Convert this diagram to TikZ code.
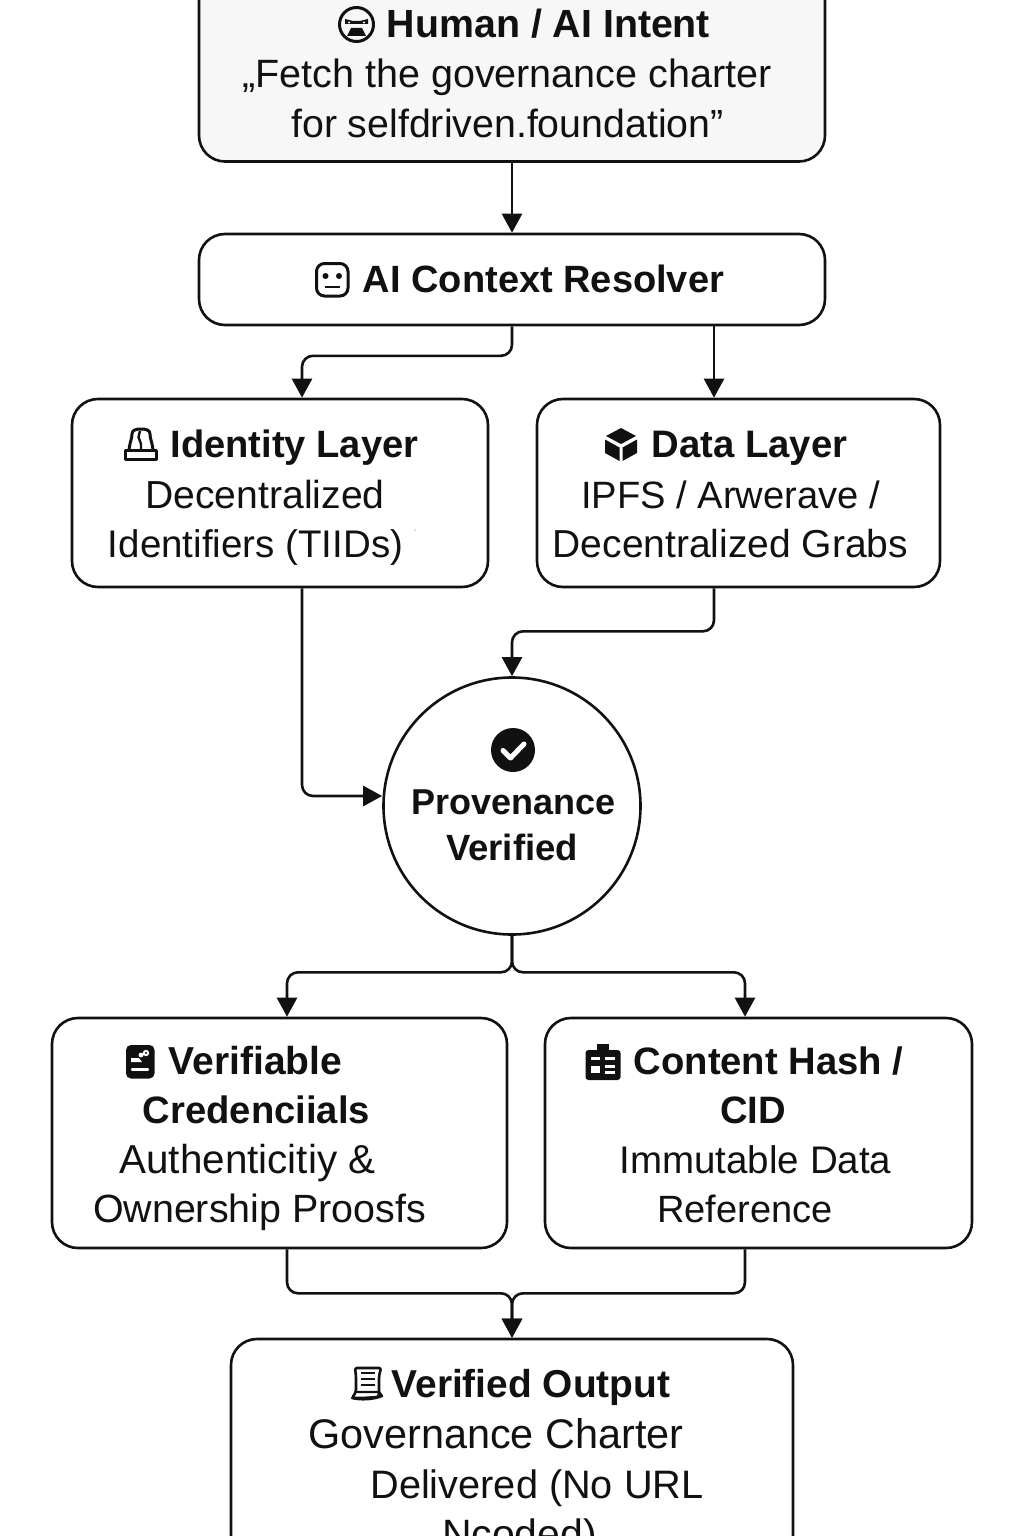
\documentclass[tikz,border=0pt]{standalone}
\usepackage{fontspec}
\setmainfont{Liberation Sans}
\usetikzlibrary{arrows.meta}
\definecolor{ink}{HTML}{111111}
\definecolor{pale}{HTML}{F7F7F7}
\tikzset{
  box/.style={draw=ink,line width=2.6pt,rounded corners=26pt,fill=white,inner sep=0pt},
  conn/.style={draw=ink,line width=2.6pt,rounded corners=11pt,-{Triangle[length=19pt,width=20pt]}},
  ttl/.style={anchor=base,inner sep=0pt,text=ink,font=\bfseries\fontsize{#1}{40}\selectfont},
  ttl/.default=38,
  body/.style={anchor=base,inner sep=0pt,text=ink,font=\fontsize{#1}{40}\selectfont},
  body/.default=39,
  ic/.style={draw=ink,line width=3pt,line join=round,line cap=round},
  icw/.style={draw=white,line width=2.4pt,line cap=round,line join=round},
}
\begin{document}
\begin{tikzpicture}[x=1pt,y=-1pt]
\useasboundingbox (0,0) rectangle (1024,1536);
\clip (0,0) rectangle (1024,1536);
\fill[white] (0,0) rectangle (1024,1536);
% boxes
\node[box,fill=pale,minimum width=626pt,minimum height=200pt] (intent) at (512,61.5) {};
\node[box,minimum width=626pt,minimum height=91pt] (resolver) at (512,279.5) {};
\node[box,minimum width=416pt,minimum height=188pt] (identity) at (280,493) {};
\node[box,minimum width=403pt,minimum height=188pt] (data) at (738.5,493) {};
\node[draw=ink,line width=2.6pt,circle,minimum size=257pt,inner sep=0pt] (prov) at (512,806) {};
\node[box,minimum width=455pt,minimum height=230pt] (vc) at (279.5,1133) {};
\node[box,minimum width=427pt,minimum height=230pt] (cid) at (758.5,1133) {};
\node[box,minimum width=562pt,minimum height=300pt] (output) at (512,1489) {};
% connectors
\draw[conn] (intent.south) -- (resolver.north);
\draw[conn] (resolver.south) -- ++(0,29.5) -| ([xshift=22pt]identity.north);
\draw[conn] ([xshift=202pt]resolver.south) -- ([xshift=-24.5pt]data.north);
\draw[conn] ([xshift=22pt]identity.south) |- ([yshift=10pt]prov.west);
\draw[conn] ([xshift=-24.5pt]data.south) -- ++(0,43) -| (prov.north);
\draw[conn] (prov.south) -- ++(0,36.5) -| ([xshift=7.5pt]vc.north);
\draw[conn] (prov.south) -- ++(0,36.5) -| ([xshift=-13.5pt]cid.north);
\draw[conn] ([xshift=7.5pt]vc.south) -- ++(0,44) -| (output.north);
\draw[conn] ([xshift=-13.5pt]cid.south) -- ++(0,44) -| (output.north);
% texts
\node[ttl=39.3] (t1) at (548.5,38) {Human / AI Intent};
\node[body=39.5] (t2) at (507,88) {„Fetch the governance charter};
\node[body=39.3] (t3) at (507.5,138) {for selfdriven.foundation”};
\node[ttl=38] (t4) at (543.5,292) {AI Context Resolver};
\node[ttl=38.1] (t5) at (294.5,457) {Identity Layer};
\node[body=39.1] (t6) at (265,508) {Decentralized};
\node[body=38.5] (t7) at (255.5,557) {Identifiers (TIIDs)};
\node[ttl=38.3] (t8) at (749.5,457) {Data Layer};
\node[body=38.1] (t9) at (730.5,508) {IPFS / Arwerave /};
\node[body=39] (t10) at (730.5,557) {Decentralized Grabs};
\node[ttl=36] (t11) at (513.5,814) {Provenance};
\node[ttl=36.5] (t12) at (512,860) {Verified};
\node[ttl=39] (t13) at (255.5,1074) {Verifiable};
\node[ttl=38.2] (t14) at (256.5,1123) {Credenciials};
\node[body=40.4] (t15) at (247.5,1173) {Authenticitiy \&};
\node[body=39.4] (t16) at (259.5,1222) {Ownership Proosfs};
\node[ttl=38.2] (t17) at (768.5,1074) {Content Hash /};
\node[ttl=38.2] (t18) at (753,1123) {CID};
\node[body=38.5] (t19) at (755.5,1173) {Immutable Data};
\node[body=38] (t20) at (745,1222) {Reference};
\node[ttl=38.9] (t21) at (531,1397) {Verified Output};
\node[body=41.4] (t22) at (496,1448) {Governance Charter};
\node[body=39.7] (t23) at (537,1498) {Delivered (No URL};
\node[body=41] (t24) at (519.5,1548) {Ncoded)};
% icon: face
\draw[ic] (356.5,24.5) circle (17);
\fill[ink] (345,19) -- (353,21) -- (360,21) -- (368,19) -- (368,24) -- (345,24) -- cycle;
\fill[white] (349,22.5) circle (1.2) (364,22.5) circle (1.2);
\fill[ink] (351,28) -- (362,28) -- (366,36) -- (347,36) -- cycle;
% icon: robot face
\draw[ic,rounded corners=8pt] (316.5,263.5) rectangle (348,296);
\fill[ink] (325.5,276) circle (3) (339,276) circle (3);
\draw[ink,line width=2.6pt] (325,287) -- (340,287);
% icon: stamp
\draw[ic] (125,450) rectangle (156.5,459.5);
\draw[ic] (129,450) .. controls (130,441) and (132,439) .. (132,434) .. controls (132,430) and (136,429) .. (141,429) .. controls (146,429) and (150,430) .. (150,434) .. controls (150,439) and (152,441) .. (153,450);
\draw[ink,line width=2.4pt] (140,431) -- (138.5,437) -- (141,444) -- (141,450);
% icon: cube
\fill[ink] (621,428) -- (636,436) -- (621,444) -- (606,436) -- cycle;
\fill[ink] (605,439.5) -- (619.5,447.5) -- (619.5,461) -- (605,453) -- cycle;
\fill[ink] (637,439.5) -- (622.5,447.5) -- (622.5,461) -- (637,453) -- cycle;
% icon: check
\fill[ink] (513,750) circle (22);
\draw[icw,line width=5pt] (503,750.5) -- (510.5,758) -- (524,744);
% icon: credential
\fill[ink,rounded corners=5pt] (126,1045) rectangle (154.5,1078.5);
\draw[icw,line width=2.4pt] (132,1069.5) -- (148,1069.5);
\fill[white] (131,1058) -- (139,1058) -- (142,1062) -- (131,1062) -- cycle;
\fill[white] (141,1055) circle (2.4) (146,1053) circle (3.2);
\fill[ink] (146,1053) circle (1.1);
% icon: content
\fill[ink,rounded corners=3pt] (585.5,1050) rectangle (620.5,1080);
\fill[ink] (597,1044) rectangle (609,1052);
\fill[white] (591,1057) rectangle (600,1060);
\fill[white] (605,1057) rectangle (615,1060);
\fill[white] (591,1066) rectangle (600,1073);
\fill[white] (605,1065) rectangle (615,1068);
\fill[white] (605,1071) rectangle (615,1074);
% icon: scroll
\draw[ic,line width=2.6pt,rounded corners=2pt] (355,1368) -- (381,1368) -- (379,1376) -- (379,1397) -- (362,1398) -- (352,1398) -- (356,1392) -- (356,1376) -- cycle;
\draw[ic,line width=2.4pt] (352,1398) .. controls (360,1400) and (372,1400) .. (382,1396) -- (379,1392) -- (356,1392);
\draw[ink,line width=2.4pt] (361,1373) -- (375,1373) (361,1379) -- (375,1379) (361,1385) -- (375,1385);
% stray speck
\fill[ink!60] (415,530) circle (0.7);
\end{tikzpicture}
\end{document}
